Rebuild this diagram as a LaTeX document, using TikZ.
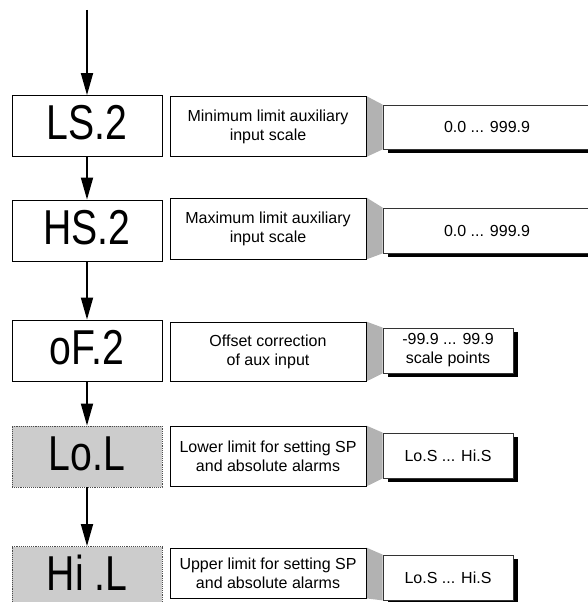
\documentclass[tikz,border=0pt]{standalone}
\usepackage{fontspec}
\setmainfont{Liberation Sans}
\newfontfamily\dispfont[FakeStretch=0.8]{Liberation Sans}
\usetikzlibrary{arrows.meta,shadows,backgrounds}
\definecolor{boxgrey}{HTML}{CCCCCC}
\definecolor{linkgrey}{HTML}{B2B2B2}

\begin{document}
\begin{tikzpicture}[x=1bp,y=-1bp,
	disp/.style={shape=rectangle,draw=black,line width=0.9bp,minimum width=150bp,minimum height=61bp,inner sep=0pt,text height=35bp,text depth=8bp,font=\dispfont\fontsize{49bp}{49bp}\selectfont},
	dispgrey/.style={disp,fill=boxgrey,draw=black!70,densely dotted},
	desc/.style={shape=rectangle,draw=black,line width=0.8bp,minimum width=196bp,inner sep=0pt,align=center,font=\fontsize{16bp}{19bp}\selectfont},
	val/.style={desc,draw=black!80,fill=white,minimum width=130bp,minimum height=45bp,drop shadow={shadow xshift=5bp,shadow yshift=-4bp,fill=black,opacity=1}},
	valwide/.style={val,minimum width=208bp},
	link/.style={fill=linkgrey},
	flow/.style={line width=1.8bp,-{Triangle[length=22bp,width=12bp]}}]
	\useasboundingbox (0,0) rectangle (588,602);
	\coordinate (in) at (87,10);
	\node[disp] (LS) at (87,126) {LS.2};
	\node[disp] (HS) at (87,230.5) {HS.2};
	\node[disp] (oF) at (87,350.5) {oF.2};
	\node[dispgrey] (Lo) at (87,456.5) {Lo.L};
	\node[dispgrey] (Hi) at (87,577) {Hi .L};
	\node[desc,minimum height=60bp] (dLS) at (268,126.5) {Minimum limit auxiliary\\input scale};
	\node[desc,minimum height=61bp] (dHS) at (268,228.5) {Maximum limit auxiliary\\input scale};
	\node[desc,minimum height=59bp] (doF) at (268,351.5) {Offset correction\\of aux input};
	\node[desc,minimum height=60bp] (dLo) at (268,456) {Lower limit for setting SP\\and absolute alarms};
	\node[desc,minimum height=50bp] (dHi) at (268,573) {Upper limit for setting SP\\and absolute alarms};
	\node[valwide,minimum height=44bp] (vLS) at (487,127) {0.0 ... 999.9};
	\node[valwide] (vHS) at (487,230.5) {0.0 ... 999.9};
	\node[val] (voF) at (448,350.5) {-99.9 ... 99.9\\scale points};
	\node[val] (vLo) at (448,455.5) {Lo.S ... Hi.S};
	\node[val] (vHi) at (448,577.5) {Lo.S ... Hi.S};
	\path [flow] (in) edge (LS);
	\path [flow] (LS) edge (HS);
	\path [flow] (HS) edge (oF);
	\path [flow] (oF) edge (Lo);
	\path [flow] (Lo) edge (Hi);
	\begin{scope}[on background layer]
	\fill [link] (dLS.north east) -- (vLS.north west) -- (vLS.south west) -- (dLS.south east) -- cycle;
	\fill [link] (dHS.north east) -- (vHS.north west) -- (vHS.south west) -- (dHS.south east) -- cycle;
	\fill [link] (doF.north east) -- (voF.north west) -- (voF.south west) -- (doF.south east) -- cycle;
	\fill [link] (dLo.north east) -- (vLo.north west) -- (vLo.south west) -- (dLo.south east) -- cycle;
	\fill [link] (dHi.north east) -- (vHi.north west) -- (vHi.south west) -- (dHi.south east) -- cycle;
	\end{scope}
\end{tikzpicture}
\end{document}
